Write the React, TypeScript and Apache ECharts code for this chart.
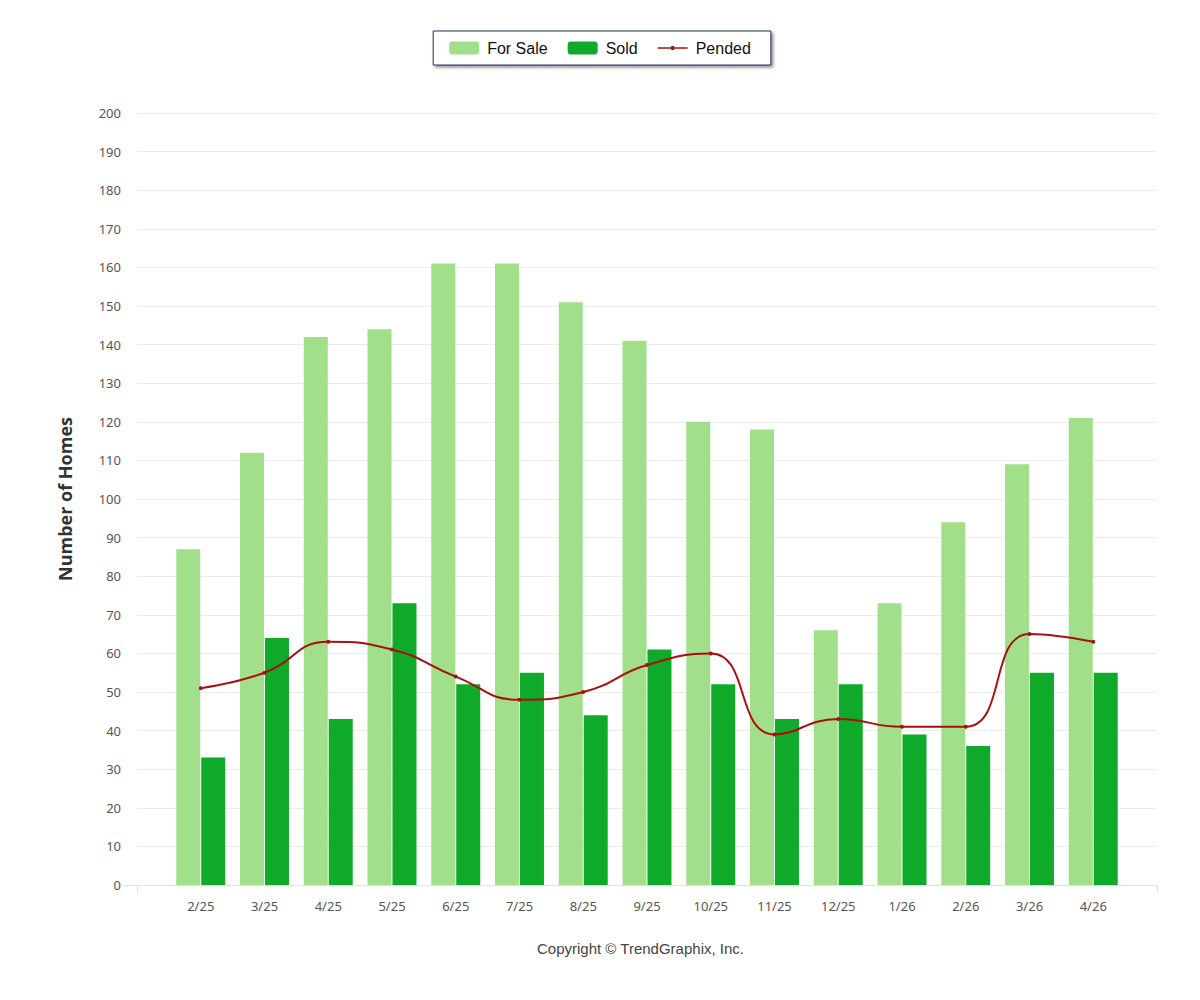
import React, { useEffect, useRef } from 'react';
import * as echarts from 'echarts';

const months = ['2/25', '3/25', '4/25', '5/25', '6/25', '7/25', '8/25', '9/25', '10/25', '11/25', '12/25', '1/26', '2/26', '3/26', '4/26'];
const forSale = [87, 112, 142, 144, 161, 161, 151, 141, 120, 118, 66, 73, 94, 109, 121];
const sold = [33, 64, 43, 73, 52, 55, 44, 61, 52, 43, 52, 39, 36, 55, 55];
const pended = [51, 55, 63, 61, 54, 48, 50, 57, 60, 39, 43, 41, 41, 65, 63];

// empty slot at each end so the axis runs a category past the first and last bar
const pad = <T,>(arr: T[]) => [null, ...arr, null];

// thin line with a small marker in the middle, drawn as one outline
const pendedIcon =
  'path://M0,1.2 L13.5,1.2 L13.5,0 L16.5,0 L16.5,1.2 L30,1.2 L30,2.8 L16.5,2.8 L16.5,4 L13.5,4 L13.5,2.8 L0,2.8 Z';

const App: React.FC = () => {
  const chartRef = useRef<HTMLDivElement>(null);

  useEffect(() => {
    if (!chartRef.current) return;
    const chart = echarts.init(chartRef.current, undefined, { renderer: 'svg' });

    const option = {
      animation: false,
      backgroundColor: '#ffffff',
      legend: {
        top: 31,
        left: 'center',
        itemWidth: 30,
        itemHeight: 13,
        itemGap: 20,
        padding: [9, 20, 9, 16],
        borderColor: '#1d3557',
        borderWidth: 1,
        shadowColor: 'rgba(0,0,0,0.45)',
        shadowBlur: 3,
        shadowOffsetX: 2,
        shadowOffsetY: 2,
        backgroundColor: '#ffffff',
        textStyle: { fontFamily: 'Liberation Sans, Arial', fontSize: 16, color: '#111', padding: [0, 0, 0, 3] },
        data: [
          { name: 'For Sale' },
          { name: 'Sold' },
          { name: 'Pended', icon: pendedIcon },
        ],
      },
      grid: { top: 113, bottom: 115, left: 137, right: 43 },
      xAxis: {
        type: 'category',
        boundaryGap: false,
        data: ['', ...months, ''],
        axisLine: { lineStyle: { color: '#e2e2e2', width: 1 } },
        axisTick: {
          show: true,
          length: 8,
          interval: (i: number) => i === 0 || i === months.length + 1,
          lineStyle: { color: '#e2e2e2' },
        },
        axisLabel: {
          interval: 0,
          margin: 14,
          fontFamily: 'Noto Sans',
          fontSize: 13,
          color: '#555',
        },
        splitLine: { show: false },
      },
      yAxis: {
        type: 'value',
        min: 0,
        max: 200,
        interval: 10,
        name: 'Number of Homes',
        nameLocation: 'middle',
        nameRotate: 90,
        nameGap: 63,
        nameTextStyle: { fontFamily: 'Open Sans', fontWeight: 'bold', fontSize: 18, color: '#333' },
        axisLine: { show: false },
        axisTick: { show: false },
        axisLabel: { margin: 16, fontFamily: 'Noto Sans', fontSize: 13, color: '#555' },
        splitLine: { lineStyle: { color: '#ececec', width: 1 } },
      },
      series: [
        {
          name: 'For Sale',
          type: 'bar',
          data: pad(forSale),
          barWidth: 24,
          barGap: '4%',
          itemStyle: { color: '#a1df8b' },
        },
        {
          name: 'Sold',
          type: 'bar',
          data: pad(sold),
          barWidth: 24,
          barGap: '4%',
          itemStyle: { color: '#10aa2a' },
        },
        {
          name: 'Pended',
          type: 'line',
          data: pad(pended),
          smooth: 0.5,
          symbol: 'circle',
          symbolSize: 4,
          lineStyle: { color: '#a8100f', width: 2 },
          itemStyle: { color: '#a8100f' },
          z: 5,
        },
      ],
      graphic: [
        {
          type: 'line',
          shape: { x1: 123, y1: 885.5, x2: 137, y2: 885.5 },
          style: { stroke: '#e2e2e2', lineWidth: 1 },
        },
        {
          type: 'text',
          left: 537,
          top: 941,
          style: {
            text: 'Copyright © TrendGraphix, Inc.',
            fontFamily: 'Liberation Sans, Arial',
            fontSize: 15,
            fill: '#444',
          },
        },
      ],
    };

    chart.setOption(option);
    return () => {
      chart.dispose();
    };
  }, []);

  return (
    <div
      ref={chartRef}
      style={{ position: 'absolute', top: 0, left: 0, width: '1200px', height: '1000px' }}
    />
  );
};

export default App;
